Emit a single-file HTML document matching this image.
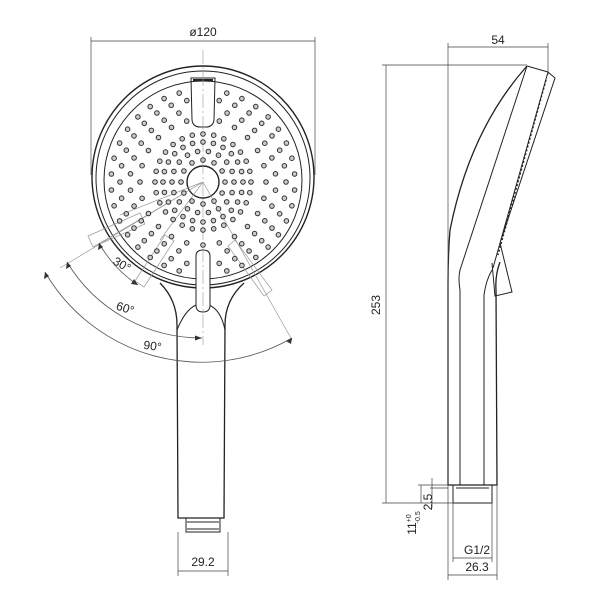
<!DOCTYPE html>
<html><head><meta charset="utf-8"><style>
html,body{margin:0;padding:0;background:#fff}
svg{display:block}
text{font-family:"Liberation Sans",sans-serif;fill:#222;font-size:12px}
</style></head><body>
<svg id="s" width="600" height="600" viewBox="0 0 600 600" xmlns="http://www.w3.org/2000/svg">
<g fill="none" stroke="#222" stroke-width="1">
<circle cx="203" cy="177" r="111" stroke-width="1.4"/>
<circle cx="203" cy="178" r="107"/>
<circle cx="203" cy="180" r="99"/>
<circle cx="203" cy="182" r="16" stroke-width="1.4"/>
<path d="M191 78 L215 78 L214 120 Q213 127 206 127 L200 127 Q193 127 192 120 Z"/>
<path d="M193 80 L213 80" stroke-width="2"/>
<path d="M160 283 Q177 300 177 325 L178 518 L224 518 L225 325 Q225 300 244 283" stroke-width="1.3"/>
<path d="M177 330 Q185 310 196 305 M209 305 Q221 310 225 330"/>
<path d="M196 256 Q196 250 203 250 Q210 250 210 256 L210 305 Q210 312 203 312 Q196 312 196 305 Z" fill="#fff"/>
<path d="M186 518 L186 532 L220 532 L220 518 M187 522 L219 522 M187 529 L219 529"/>
<g stroke="#999" stroke-width="0.7">
<path d="M88 236 L140 213 L145 224 L93 247 Z"/>
<path d="M135 281 L165 235 L174 241 L144 287 Z"/>
<path d="M235 240 L272 290 L264 296 L228 246 Z"/>
<path d="M203 182 L120 215 M203 182 L160 240 M203 182 L292 340 M203 182 L95 246 M203 182 L60 268"/>
</g>
<g stroke="#555" stroke-width="0.8">
<path d="M99 243 A121 121 0 0 0 138 285"/>
<path d="M67 262 A157 157 0 0 0 202 338"/>
<path d="M45 272 A181 181 0 0 0 292 338"/>
</g>
<g fill="#333" stroke="none">
<path d="M99 243 l-1 7 l5 -3 z M138 285 l-7 -1 l3 -5 z"/>
<path d="M67 262 l-1 7 l5 -3 z M202 338 l-7 -2.5 l0 5 z"/>
<path d="M45 272 l-1 7 l5 -3 z M292 338 l-6 3 l5 3 z"/>
</g>
<path d="M203 50 L203 345" stroke="#999" stroke-width="0.6" stroke-dasharray="14 3 2 3"/>
<g stroke="#444" stroke-width="0.7">
<path d="M91 41 L315 41 M91 37 L91 175 M315 37 L315 175"/>
<path d="M178 571 L228 571 M178 532 L178 576 M228 532 L228 576"/>
</g>
<path d="M527 66 Q470 130 450 230 Q448 255 448 285 L448 485 L497 485 L496 290 Q495 275 500 262" stroke-width="1.3"/>
<path d="M527 66 L460 270 Q458 278 460 290 L460 485 M492 270 Q486 280 484 295 L484 485"/>
<path d="M527 66 L548 72 L493 268 M548 72 L555 78 L500 243 M500 243 L512 292 L495 296 L492 263"/>
<path d="M546 80 L498 255" stroke-dasharray="2 2" stroke-width="1.4"/>
<path d="M453 485 L453 503 L492 503 L492 485 M456 488 L489 488"/>
<g stroke="#444" stroke-width="0.7">
<path d="M448 47 L548 47 M448 43 L448 485 M548 43 L548 75"/>
<path d="M386 65 L386 503 M382 65 L527 65 M382 503 L453 503"/>
<path d="M453 558 L492 558 M448 575 L497 575 M453 503 L453 562 M492 503 L492 562 M448 485 L448 580 M497 485 L497 580"/>
<path d="M418 485 L448 485 M421 485 L421 503 M432 478 L432 508 M430 488 L448 488"/>
</g>
</g>
<g id="holes" fill="#ccc" stroke="#333" stroke-width="1"></g>
<text x="203" y="36" text-anchor="middle">ø120</text>
<text x="203" y="566" text-anchor="middle">29.2</text>
<text x="120" y="268" transform="rotate(30 120 268)" text-anchor="middle">30°</text>
<text x="124" y="312" transform="rotate(18 124 312)" text-anchor="middle">60°</text>
<text x="152" y="350" transform="rotate(8 152 350)" text-anchor="middle">90°</text>
<text x="498" y="44" text-anchor="middle">54</text>
<text x="380" y="305" transform="rotate(-90 380 305)" text-anchor="middle">253</text>
<text x="477" y="554" text-anchor="middle">G1/2</text>
<text x="477" y="571" text-anchor="middle">26.3</text>
<text x="432" y="502" transform="rotate(-90 432 502)" text-anchor="middle" font-size="11">2.5</text>
<text x="416" y="523" transform="rotate(-90 416 523)" text-anchor="middle" font-size="11">11<tspan font-size="7" dy="-5">+0</tspan><tspan font-size="7" dx="-9" dy="9">-0.5</tspan></text>
</svg>
<script>
var g=document.getElementById('holes'),ns='http://www.w3.org/2000/svg',cx=203,cy=182;
function h(x,y){var c=document.createElementNS(ns,'circle');c.setAttribute('cx',x.toFixed(1));c.setAttribute('cy',y.toFixed(1));c.setAttribute('r','2.3');g.appendChild(c);}
[[22,12],[31,18],[40,24],[48,28]].forEach(function(a){for(var i=0;i<a[1];i++){var t=i/a[1]*2*Math.PI;h(cx+a[0]*Math.cos(t),cy+a[0]*Math.sin(t));}});
[[63,24],[73,28],[83,32],[92,36]].forEach(function(a,k){for(var i=0;i<a[1];i++){var t=(i+k*0.5)/a[1]*2*Math.PI;var x=cx+a[0]*Math.cos(t),y=cy+a[0]*Math.sin(t);
if(Math.abs(x-203)<16&&y<132)continue;if(Math.abs(x-203)<12&&y>245)continue;h(x,y);}});
</script>
</body></html>
